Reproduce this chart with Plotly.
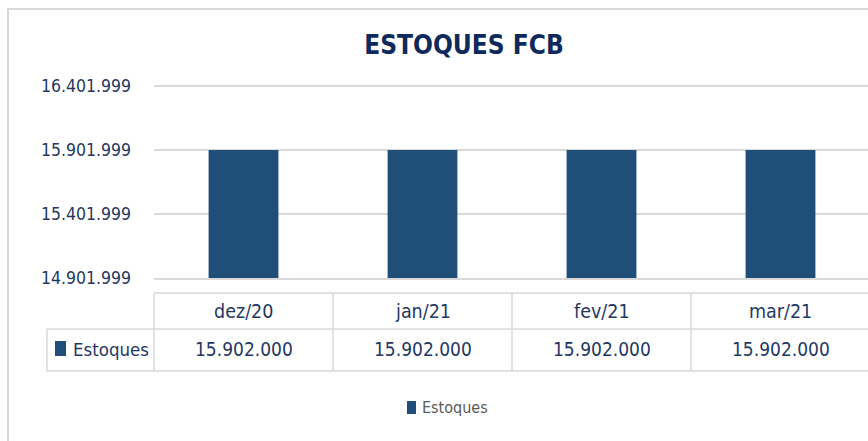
import plotly.graph_objects as go

categories = ["dez/20", "jan/21", "fev/21", "mar/21"]
estoques = [15902000, 15902000, 15902000, 15902000]
series_name = "Estoques"
title_text = "ESTOQUES FCB"
y_tickvals = [14901999, 15401999, 15901999, 16401999]

def fmt(v):
    return f"{v:,}".replace(",", ".")

W, H = 868, 441
PAD = 3  # extra px at the top so the top gridline is drawn
ML, MR = 154, 0
MT = 86 - PAD
MB = H - 278
PW = W - ML - MR
PH = H - MT - MB
cat_px = 179.0
xr_width = PW / cat_px
x_range = [-0.5, -0.5 + xr_width]
per_px = (y_tickvals[-1] - y_tickvals[0]) / (PH - PAD)
y_range = [y_tickvals[0], y_tickvals[-1] + PAD * per_px]

def px(xs):
    return (xs - ML) / PW

def py(ys):
    return (H - MB - ys) / PH

FONT = "DejaVu Sans Condensed, DejaVu Sans, sans-serif"
BAR = "#1F4E79"
TXT = "#1F3864"
GRID = "#D9D9D9"

fig = go.Figure()
fig.add_trace(go.Bar(
    x=categories, y=estoques, name=series_name,
    marker=dict(color=BAR, line=dict(width=0)),
    width=0.39, showlegend=False,
))

shapes = []
# chart frame (top & left visible)
shapes.append(dict(type="line", xref="paper", yref="paper", x0=px(7), x1=px(W + 20), y0=py(9), y1=py(9),
                   line=dict(color=GRID, width=2)))
shapes.append(dict(type="line", xref="paper", yref="paper", x0=px(8), x1=px(8), y0=py(8), y1=py(H + 20),
                   line=dict(color=GRID, width=2)))

# data table borders
n = len(categories)
bounds = [i / xr_width for i in range(n + 1)]
left_cell = px(47)
y_top, y_mid, y_bot = py(293), py(329), py(371)
line = dict(color=GRID, width=1.5)
shapes.append(dict(type="line", xref="paper", yref="paper", x0=0, x1=1, y0=y_top, y1=y_top, line=line))
shapes.append(dict(type="line", xref="paper", yref="paper", x0=left_cell, x1=1, y0=y_mid, y1=y_mid, line=line))
shapes.append(dict(type="line", xref="paper", yref="paper", x0=left_cell, x1=1, y0=y_bot, y1=y_bot, line=line))
shapes.append(dict(type="line", xref="paper", yref="paper", x0=left_cell, x1=left_cell, y0=y_mid, y1=y_bot, line=line))
for b in bounds:
    if b <= 1.0:
        shapes.append(dict(type="line", xref="paper", yref="paper", x0=b, x1=b, y0=y_top, y1=y_bot, line=line))
# legend key in table
shapes.append(dict(type="rect", xref="paper", yref="paper", x0=px(55), x1=px(66), y0=py(341), y1=py(356),
                   fillcolor=BAR, line=dict(width=0)))
# bottom legend key
shapes.append(dict(type="rect", xref="paper", yref="paper", x0=px(407), x1=px(416), y0=py(401), y1=py(414),
                   fillcolor=BAR, line=dict(width=0)))

annotations = []
for c, v in zip(categories, estoques):
    annotations.append(dict(x=c, xref="x", y=py(311), yref="paper", text=c, showarrow=False,
                            font=dict(family=FONT, size=19.5, color=TXT), xanchor="center", yanchor="middle"))
    annotations.append(dict(x=c, xref="x", y=py(349), yref="paper", text=fmt(v), showarrow=False,
                            font=dict(family=FONT, size=19, color=TXT), xanchor="center", yanchor="middle"))
annotations.append(dict(x=px(71), xref="paper", y=py(349), yref="paper", text=series_name, showarrow=False,
                        font=dict(family=FONT, size=18.5, color=TXT), xanchor="left", yanchor="middle"))
annotations.append(dict(x=px(420), xref="paper", y=py(408), yref="paper", text=series_name, showarrow=False,
                        font=dict(family=FONT, size=16, color="#595959"), xanchor="left", yanchor="middle"))

fig.update_layout(
    width=W, height=H,
    margin=dict(l=ML, r=MR, t=MT, b=MB, autoexpand=False),
    paper_bgcolor="white", plot_bgcolor="white",
    title=dict(text=f"<b>{title_text}</b>", x=464 / W, xanchor="center",
               y=1 - 45 / H, yanchor="middle",
               font=dict(family=FONT, size=26, color="#0E2A5C")),
    xaxis=dict(range=x_range, showticklabels=False, showgrid=False, zeroline=False,
               showline=True, linecolor=GRID, linewidth=1.5, ticks=""),
    yaxis=dict(range=y_range, tickvals=y_tickvals, ticktext=[fmt(v) for v in y_tickvals],
               showgrid=True, gridcolor=GRID, gridwidth=1.5, zeroline=False, showline=False, ticks="",
               tickfont=dict(family=FONT, size=17.5, color=TXT), ticklabelstandoff=22),
    showlegend=False,
    shapes=shapes, annotations=annotations,
)

fig.write_html("out.html", config={"displayModeBar": False},
               post_script="document.body.style.margin='0';")
